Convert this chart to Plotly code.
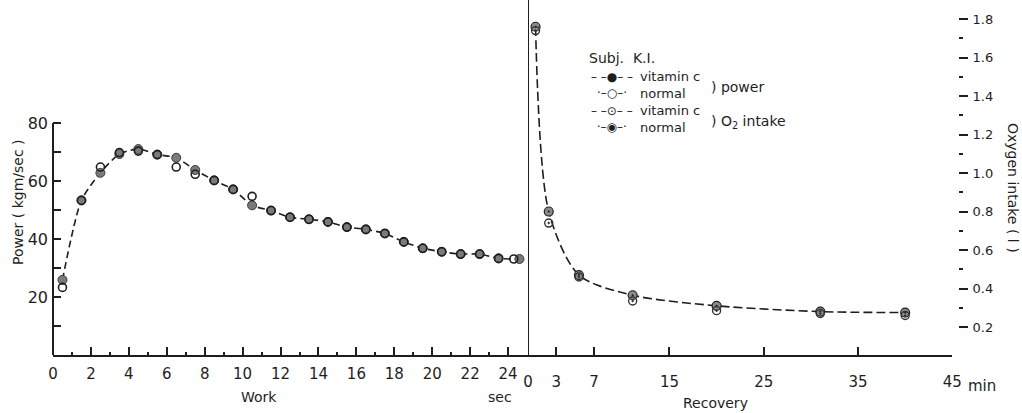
import plotly.graph_objects as go

# ---------------- data ----------------
work_sec_vit = [0.5, 1.5, 2.5, 3.5, 4.5, 5.5, 6.5, 7.5, 8.5, 9.5, 10.5, 11.5, 12.5,
                13.5, 14.5, 15.5, 16.5, 17.5, 18.5, 19.5, 20.5, 21.5, 22.5, 23.5, 24.6]
power_vit = [25.9, 53.3, 62.8, 69.3, 71.0, 69.1, 68.0, 63.8, 60.2, 57.1, 51.6, 49.8, 47.5,
             46.8, 45.9, 44.1, 43.3, 41.9, 39.0, 36.8, 35.6, 34.8, 34.8, 33.3, 33.1]

work_sec_norm = [0.5, 1.5, 2.5, 3.5, 4.5, 5.5, 6.5, 7.5, 8.5, 9.5, 10.5, 11.5, 12.5,
                 13.5, 14.5, 15.5, 16.5, 17.5, 18.5, 19.5, 20.5, 21.5, 22.5, 23.5, 24.3]
power_norm = [23.3, 53.3, 64.8, 69.8, 70.3, 69.1, 64.8, 62.3, 60.2, 57.1, 54.7, 49.8, 47.5,
              46.8, 45.9, 44.1, 43.3, 41.9, 39.0, 36.8, 35.6, 34.8, 34.8, 33.3, 33.1]

recovery_min = [0.8, 2.2, 5.4, 11.1, 20.0, 31.0, 40.0]
o2_vit = [1.76, 0.80, 0.47, 0.365, 0.31, 0.28, 0.275]
o2_norm = [1.74, 0.74, 0.46, 0.335, 0.285, 0.27, 0.26]

work_ticks = [0, 2, 4, 6, 8, 10, 12, 14, 16, 18, 20, 22, 24]
work_minor = [1, 3, 5, 7, 9, 11, 13, 15, 17, 19, 21, 23, 25]
rec_ticks = [0, 3, 7, 15, 25, 35, 45]
power_ticks = [20, 40, 60, 80]
power_minor = [10, 30, 50, 70]
o2_ticks = [0.2, 0.4, 0.6, 0.8, 1.0, 1.2, 1.4, 1.6, 1.8]
o2_minor = [0.3, 0.5, 0.7, 0.9, 1.1, 1.3, 1.5, 1.7]

# ---------------- geometry ----------------
FW, FH = 1022, 413
L, R, T, B = 53, 64, 0, 58
PW, PH = FW - L - R, FH - T - B


def px(x):
    return (x - L) / PW


def py(y):
    return 1 - (y - T) / PH


FONT = "DejaVu Sans"
INK = "#1e1e1e"
split = px(528)
right_end = px(952.3)

fig = go.Figure()

# power (work phase)
fig.add_trace(go.Scatter(
    x=work_sec_vit, y=power_vit, xaxis="x", yaxis="y", mode="lines+markers",
    line=dict(color=INK, width=1.6, dash="7px,4px", shape="spline", smoothing=0.7),
    marker=dict(symbol="circle", size=9, color="#7a7a7a", line=dict(color="#3a3a3a", width=1)),
    showlegend=False, name="vitamin c power"))
fig.add_trace(go.Scatter(
    x=work_sec_norm, y=power_norm, xaxis="x", yaxis="y", mode="markers",
    marker=dict(symbol="circle-open", size=8, color=INK, line=dict(width=1.6)),
    showlegend=False, name="normal power"))

# O2 intake (recovery phase)
fig.add_trace(go.Scatter(
    x=recovery_min, y=o2_vit, xaxis="x2", yaxis="y2", mode="lines+markers",
    line=dict(color=INK, width=1.6, dash="9px,4px", shape="spline", smoothing=0.8),
    marker=dict(symbol="circle-dot", size=9, color="#8a8a8a", line=dict(color="#222", width=1.2)),
    showlegend=False, name="vitamin c O2"))
fig.add_trace(go.Scatter(
    x=recovery_min, y=o2_norm, xaxis="x2", yaxis="y2", mode="markers",
    marker=dict(symbol="circle-open-dot", size=8, color="#333", line=dict(width=1.4)),
    showlegend=False, name="normal O2"))

tickfont = dict(family=FONT, size=15, color=INK)

fig.update_layout(
    width=FW, height=FH,
    margin=dict(l=L, r=R, t=T, b=B, pad=0),
    paper_bgcolor="white", plot_bgcolor="white",
    font=dict(family=FONT, color=INK),
    xaxis=dict(domain=[0, split], range=[0, 25.05], anchor="y",
               showline=True, linecolor=INK, linewidth=2, showgrid=False, zeroline=False,
               tickmode="array", tickvals=work_ticks, ticks="inside", ticklen=8,
               tickwidth=2, tickcolor=INK, tickfont=tickfont, ticklabelstandoff=4,
               minor=dict(tickmode="array", tickvals=work_minor, ticks="inside",
                          ticklen=3, tickwidth=2, tickcolor=INK)),
    xaxis2=dict(domain=[split, right_end], range=[0, 45], anchor="y",
                showline=True, linecolor=INK, linewidth=2, showgrid=False, zeroline=False,
                tickmode="array", tickvals=rec_ticks, ticks="inside", ticklen=8,
                tickwidth=2, tickcolor=INK, tickfont=tickfont, ticklabelstandoff=12),
    yaxis=dict(range=[0, 122.4], anchor="x", showline=False, showgrid=False,
               zeroline=False, tickmode="array", tickvals=power_ticks,
               ticks="inside", ticklen=8, tickwidth=2,
               tickcolor=INK, tickfont=dict(family=FONT, size=16, color=INK),
               ticklabelstandoff=4,
               minor=dict(tickmode="array", tickvals=power_minor, ticks="inside",
                          ticklen=8, tickwidth=2, tickcolor=INK)),
    yaxis2=dict(range=[0.0545, 1.899], overlaying="y", side="right", anchor="free",
                position=1, showline=False, showgrid=False, zeroline=False,
                tickmode="array", tickvals=o2_ticks, tickformat=".1f",
                ticks="outside", ticklen=9, tickwidth=2, tickcolor=INK,
                tickfont=dict(family=FONT, size=13, color=INK), ticklabelstandoff=2,
                minor=dict(tickmode="array", tickvals=o2_minor, ticks="outside",
                           ticklen=4, tickwidth=2, tickcolor=INK)),
)

# power axis line (drawn only up to 80) and the work/recovery separator
fig.add_shape(type="line", xref="paper", yref="y", x0=0, x1=0, y0=0, y1=80,
              line=dict(color=INK, width=2))
fig.add_shape(type="line", xref="x2", yref="paper", x0=0, x1=0, y0=0, y1=1,
              line=dict(color=INK, width=2))

ann = []


def text(x, y, s, size=14, anchor="center", angle=0, align="left"):
    ann.append(dict(x=px(x), y=py(y), xref="paper", yref="paper", text=s,
                    showarrow=False, xanchor=anchor, yanchor="middle", align=align,
                    textangle=angle, borderpad=0,
                    font=dict(family=FONT, size=size, color=INK)))


text(259, 397, "Work")
text(500, 397, "sec")
text(715, 403, "Recovery")
text(982, 386, "min", size=15)
text(18, 202, "Power ( kgm/sec )", size=14, angle=-90)
text(1013, 188, "Oxygen intake ( l )", size=14, angle=90)

# legend (text)
text(588, 58, "Subj.  K.I.", size=14, anchor="left")
text(612, 85, "– –●– –<br>·–○–·", size=12, align="center")
text(612, 119, "– –⊙– –<br>·–◉–·", size=12, align="center")
text(639, 85, "vitamin c<br>normal", size=13, anchor="left")
text(639, 119, "vitamin c<br>normal", size=13, anchor="left")
text(710, 87, ") power", size=14, anchor="left")
text(710, 122, ") O<sub>2</sub> intake", size=14, anchor="left")

fig.update_layout(annotations=ann)
fig.write_html("out.html")
